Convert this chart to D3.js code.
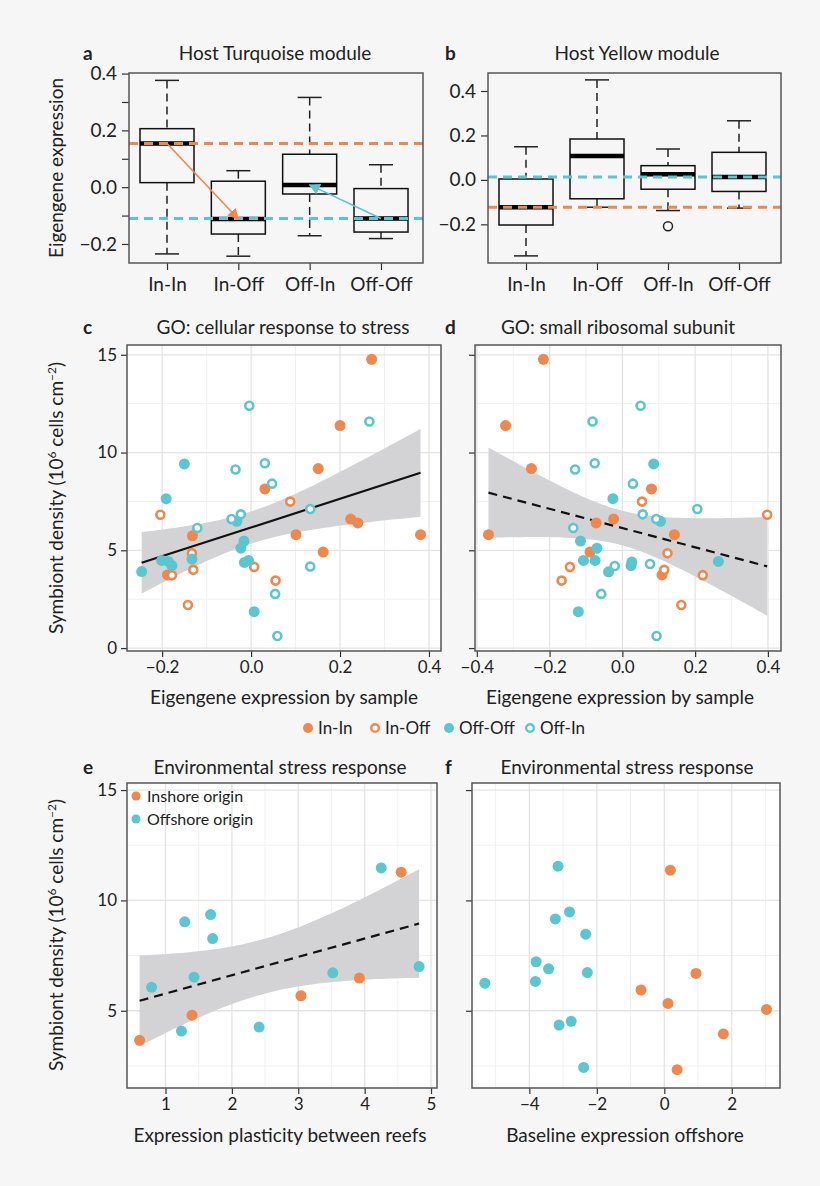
<!DOCTYPE html>
<html>
<head>
<meta charset="utf-8">
<script src="https://cdn.jsdelivr.net/npm/d3@7"></script>
<style>
  body { margin: 0; background: #f6f6f6; }
  text { font-family: Lato, "Open Sans", sans-serif; fill: #222; }
</style>
</head>
<body>
<script>
// ---- data ----
var boxCategories = ["In-In", "In-Off", "Off-In", "Off-Off"];
// [low whisker, Q1, median, Q3, high whisker]
var turquoiseBoxes = [
  [-0.235, 0.016, 0.154, 0.206, 0.376],
  [-0.243, -0.165, -0.112, 0.021, 0.058],
  [-0.171, -0.024, 0.008, 0.116, 0.316],
  [-0.181, -0.158, -0.110, -0.005, 0.079]
];
var yellowBoxes = [
  [-0.342, -0.203, -0.123, 0.004, 0.149],
  [-0.123, -0.085, 0.108, 0.184, 0.450],
  [-0.138, -0.042, 0.025, 0.064, 0.139],
  [-0.127, -0.052, 0.013, 0.124, 0.266]
];
var yellowOutliers = [["Off-In", -0.209]];

var groups = ["In-In", "In-Off", "Off-Off", "Off-In"];
// panel c: [eigengene, density, group]
var stressPoints = [
  [0.271, 14.77, "In-In"], [0.200, 11.38, "In-In"], [0.151, 9.18, "In-In"], [0.031, 8.14, "In-In"],
  [0.224, 6.6, "In-In"], [0.240, 6.4, "In-In"], [0.381, 5.8, "In-In"], [0.101, 5.8, "In-In"],
  [-0.132, 5.74, "In-In"], [0.162, 4.91, "In-In"], [-0.188, 3.74, "In-In"],
  [-0.204, 6.82, "In-Off"], [0.088, 7.49, "In-Off"], [-0.133, 4.85, "In-Off"], [-0.130, 4.0, "In-Off"],
  [-0.178, 3.73, "In-Off"], [0.007, 4.15, "In-Off"], [0.055, 3.45, "In-Off"], [-0.142, 2.2, "In-Off"],
  [-0.150, 9.42, "Off-Off"], [-0.191, 7.64, "Off-Off"], [-0.032, 6.48, "Off-Off"], [-0.016, 5.47, "Off-Off"],
  [-0.023, 5.11, "Off-Off"], [-0.201, 4.48, "Off-Off"], [-0.186, 4.43, "Off-Off"], [-0.178, 4.22, "Off-Off"],
  [-0.133, 4.55, "Off-Off"], [-0.246, 3.91, "Off-Off"], [-0.015, 4.38, "Off-Off"], [-0.006, 4.48, "Off-Off"],
  [0.007, 1.86, "Off-Off"],
  [-0.004, 12.39, "Off-In"], [-0.035, 9.13, "Off-In"], [0.031, 9.45, "Off-In"], [0.047, 8.41, "Off-In"],
  [0.266, 11.59, "Off-In"], [0.133, 7.11, "Off-In"], [-0.023, 6.84, "Off-In"], [-0.044, 6.6, "Off-In"],
  [-0.121, 6.14, "Off-In"], [0.133, 4.17, "Off-In"], [0.054, 2.77, "Off-In"], [0.059, 0.62, "Off-In"]
];
// panel d
var riboPoints = [
  [-0.217, 14.77, "In-In"], [-0.321, 11.38, "In-In"], [-0.250, 9.18, "In-In"], [0.080, 8.14, "In-In"],
  [-0.072, 6.4, "In-In"], [-0.024, 6.6, "In-In"], [-0.368, 5.8, "In-In"], [0.143, 5.8, "In-In"],
  [-0.089, 4.91, "In-In"], [0.109, 3.74, "In-In"],
  [0.398, 6.82, "In-Off"], [0.054, 7.49, "In-Off"], [0.124, 4.85, "In-Off"], [0.115, 4.0, "In-Off"],
  [-0.144, 4.15, "In-Off"], [0.221, 3.73, "In-Off"], [-0.167, 3.45, "In-Off"], [0.162, 2.2, "In-Off"],
  [0.086, 9.42, "Off-Off"], [-0.026, 7.64, "Off-Off"], [0.105, 6.48, "Off-Off"], [-0.115, 5.47, "Off-Off"],
  [-0.070, 5.11, "Off-Off"], [-0.107, 4.48, "Off-Off"], [-0.075, 4.48, "Off-Off"], [-0.038, 3.9, "Off-Off"],
  [0.024, 4.22, "Off-Off"], [0.026, 4.4, "Off-Off"], [0.264, 4.43, "Off-Off"], [-0.121, 1.86, "Off-Off"],
  [0.050, 12.39, "Off-In"], [-0.082, 11.59, "Off-In"], [-0.130, 9.13, "Off-In"], [-0.076, 9.45, "Off-In"],
  [0.029, 8.41, "Off-In"], [0.206, 7.11, "Off-In"], [0.056, 6.84, "Off-In"], [0.093, 6.6, "Off-In"],
  [-0.135, 6.14, "Off-In"], [-0.021, 4.2, "Off-In"], [0.076, 4.3, "Off-In"], [-0.058, 2.77, "Off-In"],
  [0.094, 0.62, "Off-In"]
];
var origins = ["Inshore origin", "Offshore origin"];
// panel e: [plasticity, density, origin]
var plasticityPoints = [
  [0.61, 3.66, "Inshore origin"], [1.40, 4.8, "Inshore origin"], [3.04, 5.68, "Inshore origin"],
  [3.92, 6.48, "Inshore origin"], [4.55, 11.28, "Inshore origin"],
  [0.79, 6.06, "Offshore origin"], [1.24, 4.08, "Offshore origin"], [1.29, 9.03, "Offshore origin"],
  [1.43, 6.52, "Offshore origin"], [1.68, 9.36, "Offshore origin"], [1.71, 8.27, "Offshore origin"],
  [2.41, 4.26, "Offshore origin"], [3.52, 6.72, "Offshore origin"], [4.25, 11.47, "Offshore origin"],
  [4.82, 7.0, "Offshore origin"]
];
// panel f: [baseline offshore, density, origin]
var baselinePoints = [
  [0.18, 11.37, "Inshore origin"], [0.94, 6.69, "Inshore origin"], [-0.69, 5.94, "Inshore origin"],
  [0.11, 5.33, "Inshore origin"], [3.03, 5.06, "Inshore origin"], [1.75, 3.95, "Inshore origin"],
  [0.38, 2.33, "Inshore origin"],
  [-3.15, 11.55, "Offshore origin"], [-2.81, 9.48, "Offshore origin"], [-3.23, 9.16, "Offshore origin"],
  [-2.33, 8.47, "Offshore origin"], [-3.80, 7.22, "Offshore origin"], [-3.43, 6.9, "Offshore origin"],
  [-2.28, 6.73, "Offshore origin"], [-5.32, 6.25, "Offshore origin"], [-3.82, 6.33, "Offshore origin"],
  [-2.76, 4.52, "Offshore origin"], [-3.12, 4.35, "Offshore origin"], [-2.39, 2.43, "Offshore origin"]
];

var orange = "#f0874d", teal = "#5bc6cf";
var groupColor = {"In-In": orange, "In-Off": orange, "Off-Off": teal, "Off-In": teal,
                  "Inshore origin": orange, "Offshore origin": teal};
var groupOpen = {"In-Off": true, "Off-In": true};

var svg = d3.select("body").append("svg").attr("width", 820).attr("height", 1186);
svg.append("rect").attr("width", 820).attr("height", 1186).attr("fill", "#f6f6f6");

var defs = svg.append("defs");
[["arrOrange", orange], ["arrTeal", teal]].forEach(function(m) {
  defs.append("marker").attr("id", m[0]).attr("viewBox", "0 0 10 10")
    .attr("refX", 9).attr("refY", 5).attr("markerWidth", 7).attr("markerHeight", 7)
    .attr("orient", "auto")
    .append("path").attr("d", "M0,0 L10,5 L0,10 z").attr("fill", m[1]);
});

function label(letter, title, lx, tx, y) {
  svg.append("text").attr("x", lx).attr("y", y).attr("font-size", 19).attr("font-weight", "bold").text(letter);
  svg.append("text").attr("x", tx).attr("y", y).attr("text-anchor", "middle").attr("font-size", 19).text(title);
}

function styleAxis(g, size) {
  g.select(".domain").remove();
  g.selectAll("line").attr("stroke", "#333").attr("stroke-width", 1.2);
  g.selectAll("text").attr("font-size", size).attr("fill", "#222")
    .style("font-family", "Lato, 'Open Sans', sans-serif");
}

// ---- box plots ----
function boxPanel(o) {
  var x = d3.scalePoint().domain(boxCategories).range([o.x0 + 38, o.x1 - 42]);
  var y = d3.scaleLinear().domain(o.ydom).range([o.y1, o.y0]);
  var g = svg.append("g");

  var ga = g.append("g").attr("transform", "translate(" + o.x0 + ",0)")
    .call(d3.axisLeft(y).tickValues(o.ticks).tickFormat(d3.format(".1f")).tickSize(7).tickPadding(5));
  styleAxis(ga, 19);
  if (o.minor) {
    var gm = g.append("g").attr("transform", "translate(" + o.x0 + ",0)")
      .call(d3.axisLeft(y).tickValues(o.minor).tickFormat("").tickSize(7));
    styleAxis(gm, 19);
  }
  var gx = g.append("g").attr("transform", "translate(0," + o.y1 + ")")
    .call(d3.axisBottom(x).tickSize(7).tickPadding(8));
  styleAxis(gx, 19);

  o.stats.forEach(function(s, i) {
    var cx = x(boxCategories[i]);
    g.append("line").attr("x1", cx).attr("x2", cx).attr("y1", y(s[4])).attr("y2", y(s[3]))
      .attr("stroke", "#222").attr("stroke-width", 1.5).attr("stroke-dasharray", "8,5");
    g.append("line").attr("x1", cx).attr("x2", cx).attr("y1", y(s[1])).attr("y2", y(s[0]))
      .attr("stroke", "#222").attr("stroke-width", 1.5).attr("stroke-dasharray", "8,5");
    [s[0], s[4]].forEach(function(v) {
      g.append("line").attr("x1", cx - 12).attr("x2", cx + 12).attr("y1", y(v)).attr("y2", y(v))
        .attr("stroke", "#222").attr("stroke-width", 1.5);
    });
    g.append("rect").attr("x", cx - 27).attr("width", 54).attr("y", y(s[3])).attr("height", y(s[1]) - y(s[3]))
      .attr("fill", "none").attr("stroke", "#111").attr("stroke-width", 1.5);
    g.append("line").attr("x1", cx - 27).attr("x2", cx + 27).attr("y1", y(s[2])).attr("y2", y(s[2]))
      .attr("stroke", "#000").attr("stroke-width", 4.5);
  });
  (o.outliers || []).forEach(function(p) {
    g.append("circle").attr("cx", x(p[0])).attr("cy", y(p[1])).attr("r", 4.5)
      .attr("fill", "none").attr("stroke", "#222").attr("stroke-width", 1.5);
  });
  o.refs.forEach(function(r) {
    g.append("line").attr("x1", o.x0).attr("x2", o.x1).attr("y1", y(r[0])).attr("y2", y(r[0]))
      .attr("stroke", r[1]).attr("stroke-width", 3).attr("stroke-dasharray", "9,6");
  });
  (o.arrows || []).forEach(function(a) {
    var from = boxCategories.indexOf(a[0]), to = boxCategories.indexOf(a[1]);
    g.append("line").attr("x1", x(a[0])).attr("y1", y(o.stats[from][2]))
      .attr("x2", x(a[1])).attr("y2", y(o.stats[to][2]))
      .attr("stroke", a[2]).attr("stroke-width", 1.6).attr("marker-end", "url(#" + a[3] + ")");
  });
  g.append("rect").attr("x", o.x0).attr("y", o.y0).attr("width", o.x1 - o.x0).attr("height", o.y1 - o.y0)
    .attr("fill", "none").attr("stroke", "#555").attr("stroke-width", 1.5);
}

boxPanel({x0: 129, x1: 423, y0: 73, y1: 263, ydom: [-0.267, 0.402],
  ticks: [-0.2, 0, 0.2, 0.4], minor: [-0.1, 0.1, 0.3], stats: turquoiseBoxes,
  refs: [[turquoiseBoxes[0][2], orange], [turquoiseBoxes[3][2], teal]],
  arrows: [["In-In", "In-Off", orange, "arrOrange"], ["Off-Off", "Off-In", teal, "arrTeal"]]});
boxPanel({x0: 488, x1: 781, y0: 73, y1: 263, ydom: [-0.374, 0.481],
  ticks: [-0.2, 0, 0.2, 0.4], stats: yellowBoxes, outliers: yellowOutliers,
  refs: [[yellowBoxes[3][2], teal], [yellowBoxes[0][2], orange]]});

label("a", "Host Turquoise module", 83, 275, 60);
label("b", "Host Yellow module", 445, 637, 60);
svg.append("text").attr("transform", "translate(63,168) rotate(-90)").attr("text-anchor", "middle")
  .attr("font-size", 19).text("Eigengene expression");

// ---- scatter panels ----
function ols(pts) {
  var n = pts.length, mx = d3.mean(pts, function(p) { return p[0]; }), my = d3.mean(pts, function(p) { return p[1]; });
  var sxx = d3.sum(pts, function(p) { return (p[0] - mx) * (p[0] - mx); });
  var sxy = d3.sum(pts, function(p) { return (p[0] - mx) * (p[1] - my); });
  var b = sxy / sxx, a = my - b * mx;
  var sse = d3.sum(pts, function(p) { var r = p[1] - a - b * p[0]; return r * r; });
  var s = Math.sqrt(sse / (n - 2));
  return {a: a, b: b, se: function(x) { return s * Math.sqrt(1 / n + (x - mx) * (x - mx) / sxx); }};
}

function scatterPanel(o) {
  var x = d3.scaleLinear().domain(o.xdom).range([o.x0, o.x1]);
  var y = d3.scaleLinear().domain(o.ydom).range([o.y1, o.y0]);
  var g = svg.append("g");
  g.append("rect").attr("x", o.x0).attr("y", o.y0).attr("width", o.x1 - o.x0).attr("height", o.y1 - o.y0).attr("fill", "#fff");
  o.xminor.forEach(function(v) {
    g.append("line").attr("x1", x(v)).attr("x2", x(v)).attr("y1", o.y0).attr("y2", o.y1).attr("stroke", "#f1f1f1").attr("stroke-width", 1);
  });
  o.yminor.forEach(function(v) {
    g.append("line").attr("y1", y(v)).attr("y2", y(v)).attr("x1", o.x0).attr("x2", o.x1).attr("stroke", "#f1f1f1").attr("stroke-width", 1);
  });
  o.xmajor.forEach(function(v) {
    g.append("line").attr("x1", x(v)).attr("x2", x(v)).attr("y1", o.y0).attr("y2", o.y1).attr("stroke", "#e4e4e4").attr("stroke-width", 1.3);
  });
  o.ymajor.forEach(function(v) {
    g.append("line").attr("y1", y(v)).attr("y2", y(v)).attr("x1", o.x0).attr("x2", o.x1).attr("stroke", "#e4e4e4").attr("stroke-width", 1.3);
  });

  if (o.fit) {
    var f = ols(o.pts), t = o.t;
    var ext = d3.extent(o.pts, function(p) { return p[0]; });
    var xs = d3.range(0, 61).map(function(i) { return ext[0] + (ext[1] - ext[0]) * i / 60; });
    g.append("path").datum(xs).attr("fill", "#d3d3d5")
      .attr("d", d3.area().x(function(v) { return x(v); })
        .y0(function(v) { return y(f.a + f.b * v - t * f.se(v)); })
        .y1(function(v) { return y(f.a + f.b * v + t * f.se(v)); }));
    g.append("line").attr("x1", x(ext[0])).attr("x2", x(ext[1]))
      .attr("y1", y(f.a + f.b * ext[0])).attr("y2", y(f.a + f.b * ext[1]))
      .attr("stroke", "#111").attr("stroke-width", 2.2).attr("stroke-dasharray", o.fit === "dash" ? "9,6" : null);
  }

  g.selectAll("circle.pt").data(o.pts).enter().append("circle").attr("class", "pt")
    .attr("cx", function(p) { return x(p[0]); }).attr("cy", function(p) { return y(p[1]); })
    .attr("r", function(p) { return groupOpen[p[2]] ? 4 : 5.5; })
    .attr("fill", function(p) { return groupOpen[p[2]] ? "#fff" : groupColor[p[2]]; })
    .attr("stroke", function(p) { return groupOpen[p[2]] ? groupColor[p[2]] : "none"; })
    .attr("stroke-width", 2.6);

  var gx = g.append("g").attr("transform", "translate(0," + o.y1 + ")")
    .call(d3.axisBottom(x).tickValues(o.xmajor).tickFormat(o.xfmt).tickSize(6).tickPadding(4));
  styleAxis(gx, 17);
  var gy = g.append("g").attr("transform", "translate(" + o.x0 + ",0)")
    .call(d3.axisLeft(y).tickValues(o.ymajor).tickFormat(o.showY ? d3.format("d") : "").tickSize(6).tickPadding(4));
  styleAxis(gy, 17);
  g.append("rect").attr("x", o.x0).attr("y", o.y0).attr("width", o.x1 - o.x0).attr("height", o.y1 - o.y0)
    .attr("fill", "none").attr("stroke", "#555").attr("stroke-width", 1.5);
  return g;
}

scatterPanel({x0: 127, x1: 441, y0: 345, y1: 651, xdom: [-0.279, 0.427], ydom: [-0.15, 15.5],
  xmajor: [-0.2, 0, 0.2, 0.4], xminor: [-0.1, 0.1, 0.3], ymajor: [0, 5, 10, 15], yminor: [2.5, 7.5, 12.5],
  xfmt: d3.format(".1f"), showY: true, pts: stressPoints, fit: "solid", t: 2.02});
scatterPanel({x0: 475, x1: 781, y0: 345, y1: 651, xdom: [-0.405, 0.436], ydom: [-0.15, 15.5],
  xmajor: [-0.4, -0.2, 0, 0.2, 0.4], xminor: [-0.3, -0.1, 0.1, 0.3], ymajor: [0, 5, 10, 15], yminor: [2.5, 7.5, 12.5],
  xfmt: d3.format(".1f"), showY: false, pts: riboPoints, fit: "dash", t: 2.02});
label("c", "GO: cellular response to stress", 83, 283, 334);
label("d", "GO: small ribosomal subunit", 445, 618, 334);

var ge = scatterPanel({x0: 127, x1: 437, y0: 783, y1: 1088, xdom: [0.42, 5.09], ydom: [1.5, 15.32],
  xmajor: [1, 2, 3, 4, 5], xminor: [1.5, 2.5, 3.5, 4.5], ymajor: [5, 10, 15], yminor: [2.5, 7.5, 12.5],
  xfmt: d3.format("d"), showY: true, pts: plasticityPoints, fit: "dash", t: 2.16});
scatterPanel({x0: 472, x1: 780, y0: 783, y1: 1088, xdom: [-5.7, 3.43], ydom: [1.5, 15.32],
  xmajor: [-4, -2, 0, 2], xminor: [-5, -3, -1, 1, 3], ymajor: [5, 10, 15], yminor: [2.5, 7.5, 12.5],
  xfmt: d3.format("d"), showY: false, pts: baselinePoints});
label("e", "Environmental stress response", 83, 280, 774);
label("f", "Environmental stress response", 445, 627, 774);

// legend inside e
origins.forEach(function(o, i) {
  ge.append("circle").attr("cx", 136).attr("cy", 796 + i * 23).attr("r", 4.5).attr("fill", groupColor[o]);
  ge.append("text").attr("x", 147).attr("y", 802 + i * 23).attr("font-size", 16).text(o);
});

// shared legend for c/d
var legX = [308, 375, 449, 530];
groups.forEach(function(gname, i) {
  var open = groupOpen[gname];
  svg.append("circle").attr("cx", legX[i]).attr("cy", 728).attr("r", open ? 3.8 : 5)
    .attr("fill", open ? "#fff" : groupColor[gname])
    .attr("stroke", open ? groupColor[gname] : "none").attr("stroke-width", 2.4);
  svg.append("text").attr("x", legX[i] + 10).attr("y", 734).attr("font-size", 17).text(gname);
});

// axis titles
svg.append("text").attr("x", 284).attr("y", 704).attr("text-anchor", "middle").attr("font-size", 19).text("Eigengene expression by sample");
svg.append("text").attr("x", 620).attr("y", 704).attr("text-anchor", "middle").attr("font-size", 19).text("Eigengene expression by sample");
svg.append("text").attr("x", 280).attr("y", 1142).attr("text-anchor", "middle").attr("font-size", 19).text("Expression plasticity between reefs");
svg.append("text").attr("x", 625).attr("y", 1142).attr("text-anchor", "middle").attr("font-size", 19).text("Baseline expression offshore");
[498, 935].forEach(function(cy) {
  var t = svg.append("text").attr("transform", "translate(63," + cy + ") rotate(-90)")
    .attr("text-anchor", "middle").attr("font-size", 19);
  t.append("tspan").text("Symbiont density (10");
  t.append("tspan").attr("dy", -7).attr("font-size", 12).text("6");
  t.append("tspan").attr("dy", 7).text(" cells cm");
  t.append("tspan").attr("dy", -7).attr("font-size", 12).text("−2");
  t.append("tspan").attr("dy", 7).text(")");
});
</script>
</body>
</html>
